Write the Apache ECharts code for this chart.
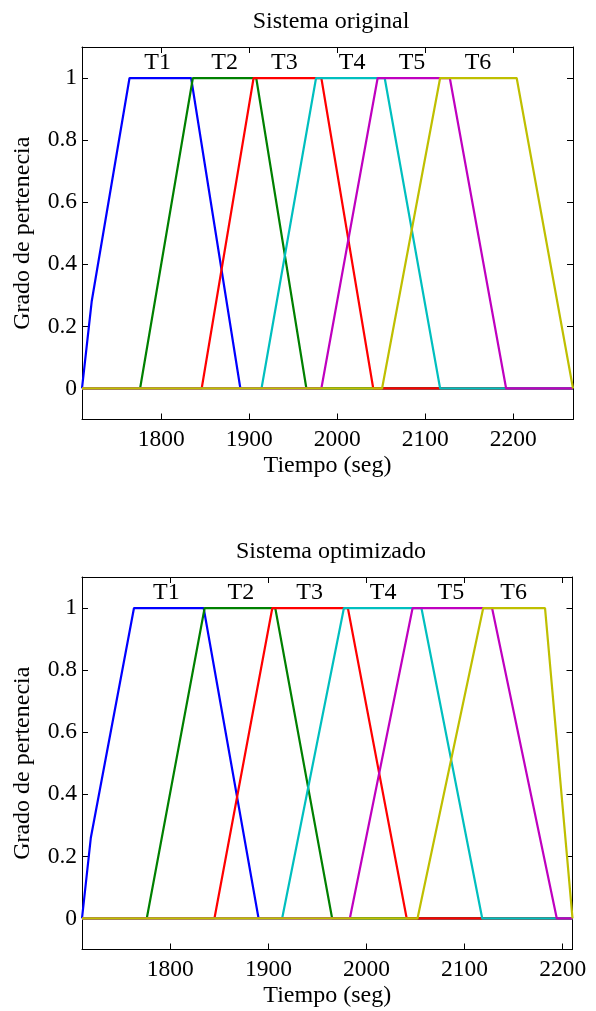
<!DOCTYPE html>
<html>
<head>
<meta charset="utf-8">
<script src="https://cdn.jsdelivr.net/npm/echarts@6/dist/echarts.min.js"></script>
<style>
html,body{margin:0;padding:0;background:#fff;}
#chart{width:596px;height:1011px;}
</style>
</head>
<body>
<div id="chart"></div>
<script>
// ---- data ----
const seriesNames = ['T1','T2','T3','T4','T5','T6'];
const seriesColors = ['#0000ff','#008000','#ff0000','#00bfbf','#bf00bf','#bfbf00'];
const xTicks = [1800, 1900, 2000, 2100, 2200];
const yTicks = [0, 0.2, 0.4, 0.6, 0.8, 1];

const topXMin = 1710, topXMax = 2268;
const botXMin = 1710, botXMax = 2210;

// Sistema original
const origT1 = [[1710,0],[1721,0.28],[1764,1],[1834,1],[1890,0],[2268,0]];
const origT2 = [[1710,0],[1776,0],[1836,1],[1908,1],[1965,0],[2268,0]];
const origT3 = [[1710,0],[1846,0],[1905,1],[1982,1],[2041,0],[2268,0]];
const origT4 = [[1710,0],[1914,0],[1976,1],[2054,1],[2117,0],[2268,0]];
const origT5 = [[1710,0],[1982,0],[2046,1],[2128,1],[2192,0],[2268,0]];
const origT6 = [[1710,0],[2051,0],[2117,1],[2204,1],[2268,0]];
const origLabelX = [1796, 1872, 1940, 2017, 2085, 2160];

// Sistema optimizado
const optT1 = [[1710,0],[1719,0.26],[1763,1],[1834,1],[1890,0],[2210,0]];
const optT2 = [[1710,0],[1776,0],[1835,1],[1907,1],[1965,0],[2210,0]];
const optT3 = [[1710,0],[1845,0],[1904,1],[1981,1],[2041,0],[2210,0]];
const optT4 = [[1710,0],[1914,0],[1977,1],[2056,1],[2118,0],[2210,0]];
const optT5 = [[1710,0],[1983,0],[2047,1],[2128,1],[2194,0],[2210,0]];
const optT6 = [[1710,0],[2052,0],[2119,1],[2182,1],[2210,0]];
const optLabelX = [1796, 1872, 1942, 2017, 2086, 2150];
const labelY = 1.05;

const titles = ['Sistema original', 'Sistema optimizado'];
const xName = 'Tiempo (seg)';
const yName = 'Grado de pertenecia';

// ---- chart ----
const FONT = '"Liberation Serif", "Times New Roman", serif';
const chart = echarts.init(document.getElementById('chart'), null, {renderer:'canvas'});

function xAxes(gi, min, max) {
  const common = {
    gridIndex: gi, type: 'value', min: min, max: max,
    axisLine: {show: true, onZero: false, lineStyle: {color: '#000', width: 1}},
    axisTick: {show: true, inside: true, length: 6, customValues: xTicks, lineStyle: {color: '#000'}},
    splitLine: {show: false}
  };
  return [
    Object.assign({}, common, {
      position: 'bottom',
      axisLabel: {show: true, customValues: xTicks, margin: 8, fontSize: 23.5, fontFamily: FONT, color: '#000',
                  formatter: v => String(v)},
      name: xName, nameLocation: 'middle', nameGap: 34,
      nameTextStyle: {fontSize: 24, fontFamily: FONT, color: '#000'}
    }),
    Object.assign({}, common, {position: 'top', axisLabel: {show: false}})
  ];
}
function yAxes(gi) {
  const common = {
    gridIndex: gi, type: 'value', min: -0.1, max: 1.1,
    axisLine: {show: true, onZero: false, lineStyle: {color: '#000', width: 1}},
    axisTick: {show: true, inside: true, length: 6, customValues: yTicks, lineStyle: {color: '#000'}},
    splitLine: {show: false}
  };
  return [
    Object.assign({}, common, {
      position: 'left',
      axisLabel: {show: true, customValues: yTicks, margin: 5, fontSize: 23.5, fontFamily: FONT, color: '#000',
                  formatter: v => String(v)},
      name: yName, nameLocation: 'middle', nameGap: 47, nameRotate: 90,
      nameTextStyle: {fontSize: 24, fontFamily: FONT, color: '#000'}
    }),
    Object.assign({}, common, {position: 'right', axisLabel: {show: false}})
  ];
}

function lineSeries(data, idx, xi, yi) {
  return {
    type: 'line', name: seriesNames[idx], data: data,
    xAxisIndex: xi, yAxisIndex: yi,
    showSymbol: false, symbol: 'none', animation: false,
    lineStyle: {color: seriesColors[idx], width: 2.2},
    itemStyle: {color: seriesColors[idx]}
  };
}
function labelSeries(xs, xi, yi) {
  return {
    type: 'scatter', xAxisIndex: xi, yAxisIndex: yi, animation: false,
    symbolSize: 0, itemStyle: {color: '#000', opacity: 1}, silent: true,
    data: xs.map((x, i) => [x, labelY, seriesNames[i]]),
    label: {show: true, position: 'inside', formatter: p => p.value[2],
            fontSize: 24, fontFamily: FONT, color: '#000', opacity: 1}
  };
}

const origSets = [origT1, origT2, origT3, origT4, origT5, origT6];
const optSets = [optT1, optT2, optT3, optT4, optT5, optT6];

const series = [];
origSets.forEach((d, i) => series.push(lineSeries(d, i, 0, 0)));
series.push(labelSeries(origLabelX, 0, 0));
optSets.forEach((d, i) => series.push(lineSeries(d, i, 2, 2)));
series.push(labelSeries(optLabelX, 2, 2));

chart.setOption({
  animation: false,
  backgroundColor: '#fff',
  title: [
    {text: titles[0], left: 326, top: 5, textAlign: 'center',
     textStyle: {fontSize: 24, fontWeight: 'normal', fontFamily: FONT, color: '#000'}},
    {text: titles[1], left: 326, top: 535, textAlign: 'center',
     textStyle: {fontSize: 24, fontWeight: 'normal', fontFamily: FONT, color: '#000'}}
  ],
  grid: [
    {left: 82, right: 23, top: 47, height: 372.5},
    {left: 82, right: 23.5, top: 577, height: 372.5}
  ],
  xAxis: [].concat(xAxes(0, topXMin, topXMax), xAxes(1, botXMin, botXMax)),
  yAxis: [].concat(yAxes(0), yAxes(1)),
  series: series
});
</script>
</body>
</html>
